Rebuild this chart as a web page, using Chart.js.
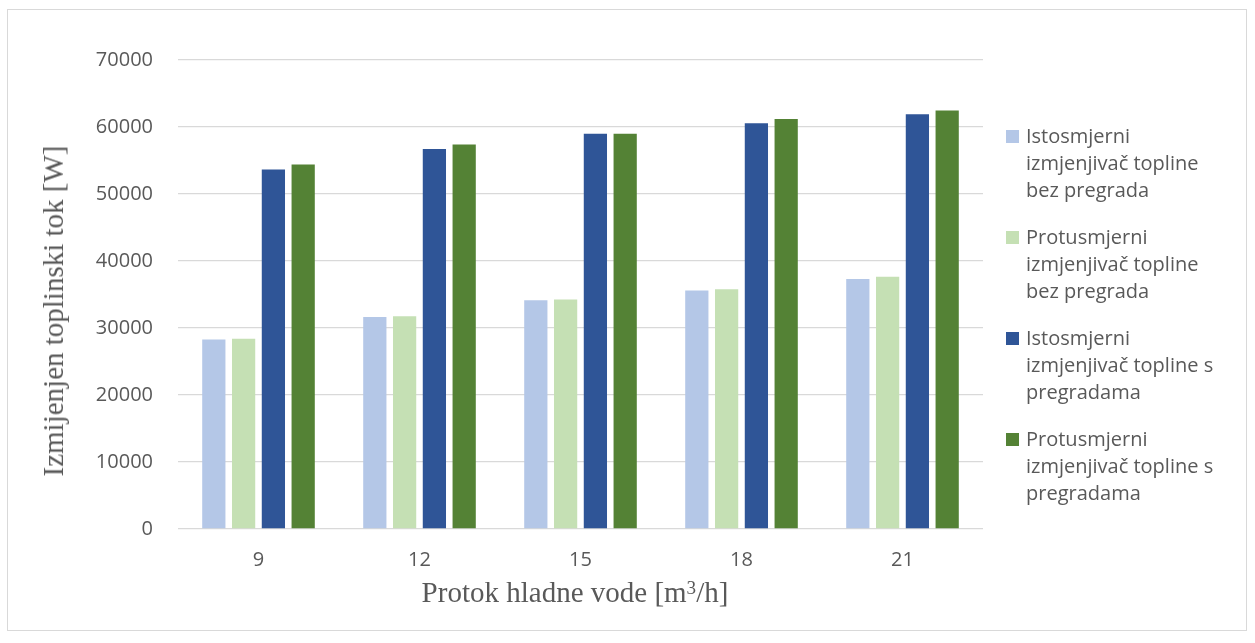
<!DOCTYPE html>
<html>
<head>
<meta charset="utf-8">
<script src="https://cdn.jsdelivr.net/npm/chart.js@4.4.1/dist/chart.umd.min.js"></script>
<style>
  html, body { margin: 0; padding: 0; background: #fff; }
  #wrap { position: relative; width: 1255px; height: 643px; overflow: hidden; }
  #frame { position: absolute; left: 7px; top: 9px; width: 1240px; height: 622px; border: 1px solid #D9D9D9; box-sizing: border-box; }
  #chart { position: absolute; left: 0; top: 0; }
  .axis-title { position: absolute; font-family: "Liberation Serif", "Times New Roman", serif; font-size: 29px; line-height: 32px; color: #595959; white-space: nowrap; }
  .axis-title sup { font-size: 0.66em; line-height: 0; vertical-align: 0.42em; }
  #yTitle { left: 53px; top: 311px; transform: translate(-50%, -50%) rotate(-90deg); }
  #xTitle { left: 575px; top: 592px; transform: translate(-50%, -50%); }
  #legend { position: absolute; left: 1006px; top: 122px; font-family: "Open Sans", sans-serif; font-size: 20px; line-height: 27px; color: #595959; }
  .legend-item { display: flex; align-items: flex-start; margin-bottom: 20px; }
  .legend-box { width: 13px; height: 13px; margin-top: 8px; margin-right: 7px; flex: none; }
  .legend-text { width: 192px; }
</style>
</head>
<body>
<div id="wrap">
  <div id="frame"></div>
  <canvas id="chart" width="1255" height="643"></canvas>
  <div id="yTitle" class="axis-title">Izmijenjen toplinski tok [W]</div>
  <div id="xTitle" class="axis-title">Protok hladne vode [m<sup>3</sup>/h]</div>
  <div id="legend"></div>
</div>
<script>
// Data
const flowRates = ['9', '12', '15', '18', '21'];
const seriesLabels = [
    'Istosmjerni izmjenjivač topline bez pregrada',
    'Protusmjerni izmjenjivač topline bez pregrada',
    'Istosmjerni izmjenjivač topline s pregradama',
    'Protusmjerni izmjenjivač topline s pregradama'
];
const parallelNoBaffles = [28300, 31650, 34150, 35600, 37300];
const counterNoBaffles = [28400, 31750, 34250, 35800, 37650];
const parallelBaffles = [53650, 56700, 59000, 60550, 61900];
const counterBaffles = [54400, 57400, 59000, 61200, 62450];
const seriesColors = ['#B4C7E7', '#C5E0B4', '#2F5597', '#548235'];
const yTicks = [0, 10000, 20000, 30000, 40000, 50000, 60000, 70000];

const seriesData = [parallelNoBaffles, counterNoBaffles, parallelBaffles, counterBaffles];

const chart = new Chart(document.getElementById('chart'), {
    type: 'bar',
    data: {
        labels: flowRates,
        datasets: seriesData.map((values, i) => ({
            label: seriesLabels[i],
            data: values,
            backgroundColor: seriesColors[i],
            borderWidth: 0,
            categoryPercentage: 0.74,
            barPercentage: 0.78
        }))
    },
    options: {
        responsive: false,
        animation: false,
        layout: { padding: { top: 60, right: 272, bottom: 0, left: 0 } },
        plugins: {
            legend: { display: false },
            tooltip: { enabled: false }
        },
        scales: {
            x: {
                grid: { display: false },
                border: { display: false },
                ticks: {
                    color: '#595959',
                    font: { family: 'Open Sans', size: 20 },
                    padding: 11
                },
                afterFit: scale => { scale.height = 643 - 529; }
            },
            y: {
                min: yTicks[0],
                max: yTicks[yTicks.length - 1],
                afterBuildTicks: scale => { scale.ticks = yTicks.map(v => ({ value: v })); },
                grid: { color: '#D9D9D9', lineWidth: 1.3, drawTicks: false },
                border: { display: false },
                ticks: {
                    color: '#595959',
                    font: { family: 'Open Sans', size: 20 },
                    padding: 25,
                    callback: value => String(value)
                },
                afterFit: scale => { scale.width = 178; }
            }
        }
    }
});

// HTML legend so labels can wrap over several lines
const legend = document.getElementById('legend');
seriesLabels.forEach((label, i) => {
    const item = document.createElement('div');
    item.className = 'legend-item';
    item.innerHTML = `
        <span class="legend-box" style="background:${seriesColors[i]}"></span>
        <span class="legend-text">${label}</span>
    `;
    legend.appendChild(item);
});
</script>
</body>
</html>
